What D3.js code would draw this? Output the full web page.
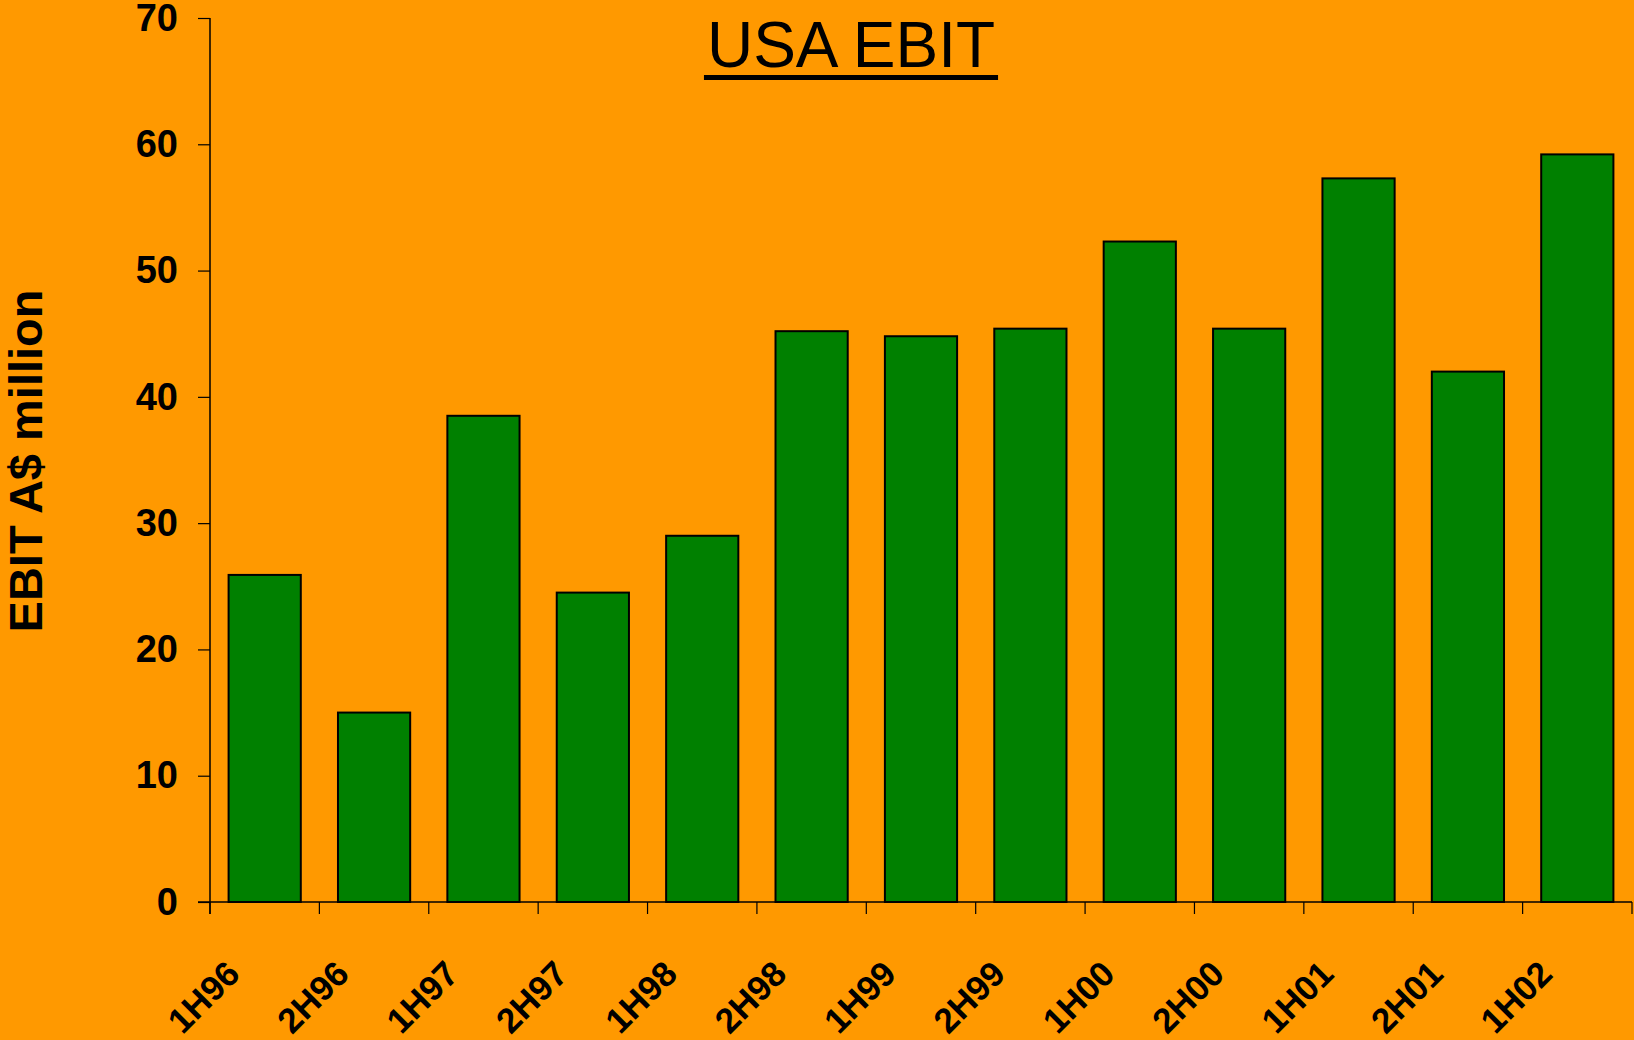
<!DOCTYPE html>
<html>
<head>
<meta charset="utf-8">
<script src="https://cdn.jsdelivr.net/npm/d3@7"></script>
<style>
  html, body { margin: 0; padding: 0; background: #ff9900; }
  svg { display: block; font-family: "Liberation Sans", Arial, sans-serif; }
</style>
</head>
<body>
<svg id="chart" width="1634" height="1040"></svg>
<script>
// chart data
const periods = ["1H96", "2H96", "1H97", "2H97", "1H98", "2H98", "1H99", "2H99", "1H00", "2H00", "1H01", "2H01", "1H02"];
const ebit = [25.9, 15.0, 38.5, 24.5, 29.0, 45.2, 44.8, 45.4, 52.3, 45.4, 57.3, 42.0, 59.2];
const yTicks = [0, 10, 20, 30, 40, 50, 60, 70];

const plotLeft = 210, plotRight = 1632, plotTop = 18, plotBottom = 902;

const svg = d3.select("#chart");

const xs = d3.scaleBand().domain(periods).range([plotLeft, plotRight]).paddingInner(0.34).paddingOuter(0.17);
const ys = d3.scaleLinear().domain([0, 70]).range([plotBottom, plotTop]);

// bars
svg.append("g").selectAll("rect").data(periods).enter().append("rect")
    .attr("x", d => xs(d))
    .attr("y", (d, i) => ys(ebit[i]))
    .attr("width", xs.bandwidth())
    .attr("height", (d, i) => ys(0) - ys(ebit[i]))
    .attr("fill", "#008000")
    .attr("stroke", "#000")
    .attr("stroke-width", 2);

// y axis
const yAxis = svg.append("g").attr("transform", `translate(${plotLeft},0)`)
    .call(d3.axisLeft(ys).tickValues(yTicks).tickSize(12).tickPadding(20).tickSizeOuter(0));
yAxis.select(".domain").remove();
yAxis.append("line").attr("x1", 0).attr("x2", 0).attr("y1", plotTop).attr("y2", plotBottom + 12)
    .attr("stroke", "#000").attr("stroke-width", 1.5);
yAxis.selectAll(".tick line").attr("stroke", "#000").attr("stroke-width", 1.2);
yAxis.selectAll(".tick text")
    .attr("fill", "#000").attr("font-size", 38).attr("font-weight", "bold")
    .attr("font-family", "Liberation Sans, Arial, sans-serif");

// x axis: ticks at band boundaries
const bounds = d3.range(periods.length + 1).map(i => plotLeft + i * (plotRight - plotLeft) / periods.length);
const xAxis = svg.append("g");
xAxis.append("line").attr("x1", plotLeft - 12).attr("x2", plotRight).attr("y1", plotBottom).attr("y2", plotBottom)
    .attr("stroke", "#000").attr("stroke-width", 1.5);
xAxis.selectAll("line.tk").data(bounds).enter().append("line").attr("class", "tk")
    .attr("x1", d => d).attr("x2", d => d)
    .attr("y1", plotBottom).attr("y2", plotBottom + 12)
    .attr("stroke", "#000").attr("stroke-width", 1.2);

xAxis.selectAll("text").data(periods).enter().append("text")
    .attr("transform", d => `translate(${xs(d) + xs.bandwidth() / 2 - 23},${plotBottom + 74}) rotate(-45)`)
    .attr("text-anchor", "end")
    .attr("font-size", 35)
    .attr("font-weight", "bold")
    .attr("fill", "#000")
    .text(d => d);

// y axis title
svg.append("text")
    .attr("transform", `translate(42,461) rotate(-90)`)
    .attr("text-anchor", "middle")
    .attr("font-size", 47)
    .attr("font-weight", "bold")
    .attr("fill", "#000")
    .text("EBIT A$ million");

// title with underline
const title = svg.append("text")
    .attr("x", 851).attr("y", 67)
    .attr("text-anchor", "middle")
    .attr("font-size", 64)
    .attr("fill", "#000")
    .text("USA EBIT");
const tb = title.node().getBBox();
svg.append("rect").attr("x", tb.x - 3).attr("y", 75).attr("width", tb.width + 6).attr("height", 5).attr("fill", "#000");
</script>
</body>
</html>
